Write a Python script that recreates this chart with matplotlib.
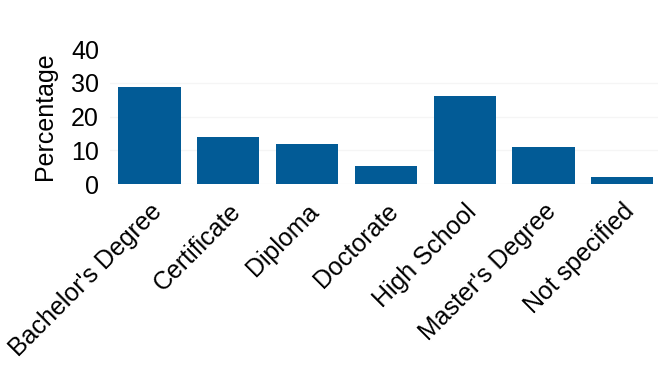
import matplotlib
matplotlib.use('Agg')
import matplotlib.pyplot as plt

categorias = ["Bachelor's Degree", "Certificate", "Diploma", "Doctorate",
              "High School", "Master's Degree", "Not specified"]
porcentajes = [28.7, 13.9, 12.0, 5.3, 26.0, 11.0, 2.2]
ticks_y = [0, 10, 20, 30, 40]

plt.rcParams['font.family'] = ['Liberation Sans', 'DejaVu Sans']

fig = plt.figure(figsize=(6.6, 3.66), dpi=100)
ax = fig.add_axes([0.1667, 0.497, 0.83, 0.369])
x = range(len(categorias))
ax.bar(x, porcentajes, width=0.79, color='#025b96', linewidth=0, zorder=2)
ax.set_xlim(-0.5, 6.45)
ax.set_ylim(0, 40)
ax.set_yticks(ticks_y)
ax.grid(axis='y', color='#f5f5f5', linewidth=1, zorder=0)
# la linea de 40 no se ve en el original
ax.get_ygridlines()[-1].set_visible(False)
for s in ax.spines.values():
    s.set_visible(False)
ax.tick_params(length=0, labelsize=18, pad=8)
ax.tick_params(axis='x', pad=11)
ax.set_xticks(list(x))
ax.set_xticklabels(categorias, rotation=45, ha='right', rotation_mode='anchor')
ax.set_ylabel('Percentage', fontsize=18, labelpad=10)
fig.savefig('out.png', dpi=100, facecolor='white')
